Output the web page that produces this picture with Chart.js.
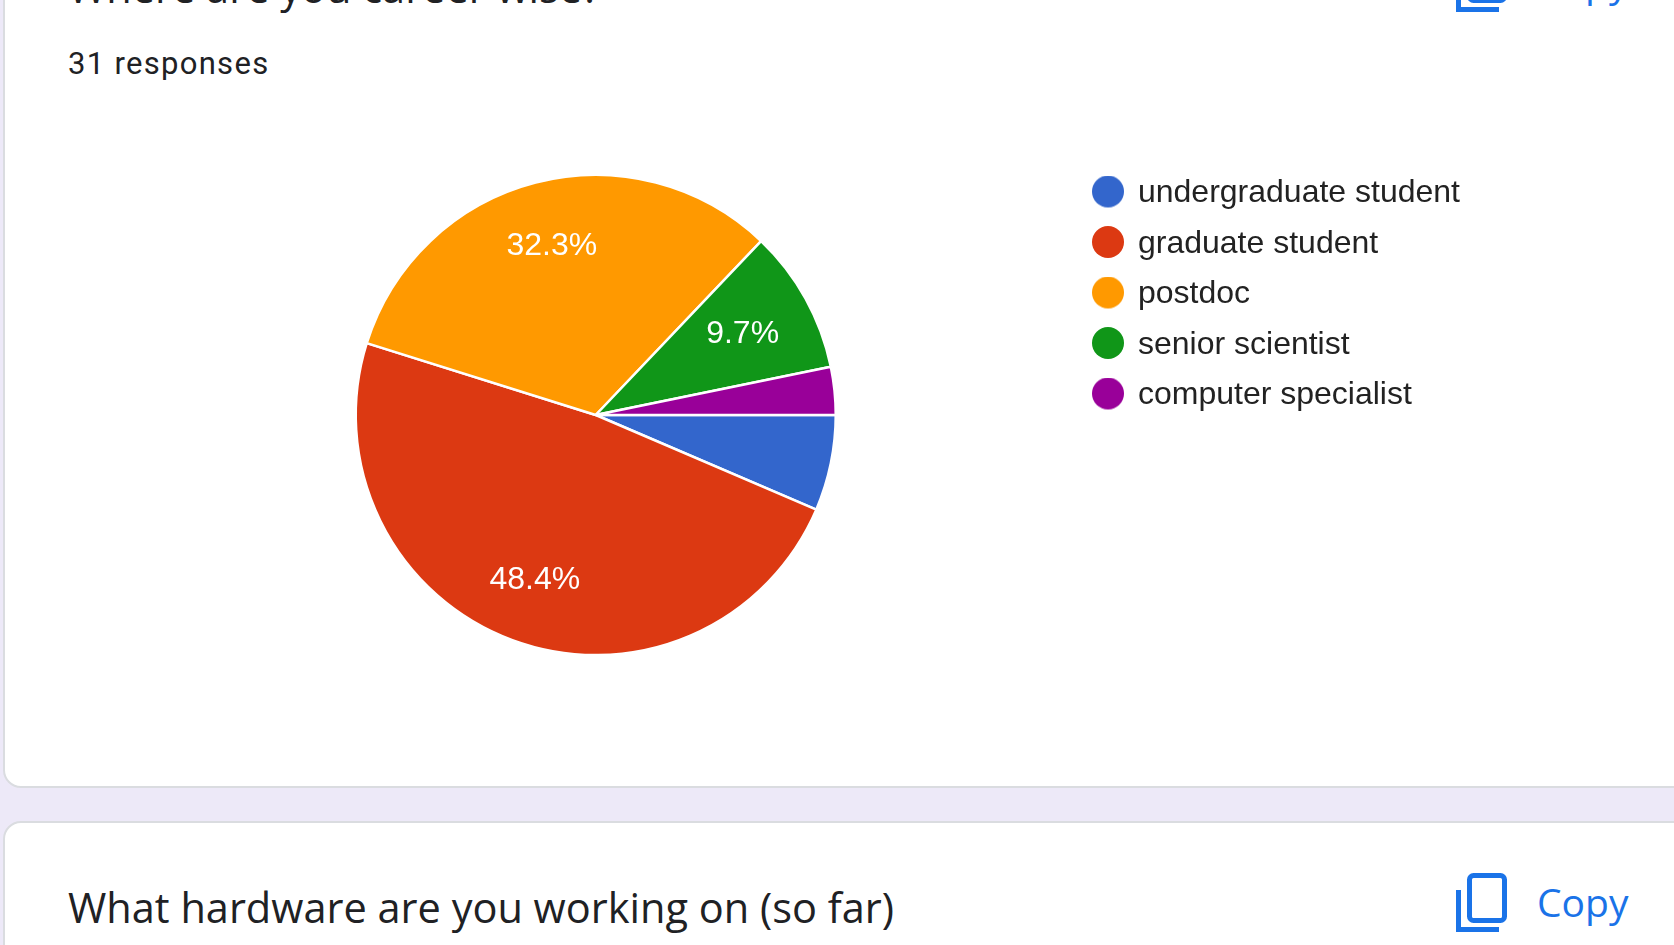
<!DOCTYPE html>
<html>
<head>
<meta charset="utf-8">
<title>Where are you career wise?</title>
<script src="https://cdn.jsdelivr.net/npm/chart.js@4"></script>
<style>
  html, body { margin: 0; padding: 0; width: 1674px; height: 945px; overflow: hidden; background: #ede9f8; }
  .card { position: absolute; left: 3px; width: 1700px; background: #fff; border: 2px solid #dadce0; border-radius: 18px; box-sizing: border-box; }
  #card-top { top: -100px; height: 888px; }
  #card-bottom { top: 821px; height: 300px; }
  .title { position: absolute; left: 68px; font-family: "Open Sans", sans-serif; font-size: 41.5px; line-height: 50px; color: #202124; white-space: nowrap; }
  .copy { position: absolute; left: 1537px; font-family: "Open Sans", sans-serif; font-size: 39px; line-height: 50px; color: #1a73e8; }
  .icon { position: absolute; left: 1456px; }
  #responses { position: absolute; left: 68px; top: 44px; font-family: Roboto, sans-serif; font-size: 31px; line-height: 40px; letter-spacing: 1.3px; color: #202124; }
  #chart-wrap { position: absolute; left: 0; top: 0; width: 1674px; height: 760px; }
</style>
</head>
<body>
<div class="card" id="card-top"></div>
<div class="card" id="card-bottom"></div>

<div class="title" style="top:-38px">Where are you career wise?</div>
<svg class="icon" style="top:-47px" width="52" height="60"><rect x="13.5" y="2.5" width="35" height="45" rx="4" fill="none" stroke="#1a73e8" stroke-width="5"/><path d="M2.5 17V56.5H43" fill="none" stroke="#1a73e8" stroke-width="5"/></svg>
<div class="copy" style="top:-43px">Copy</div>
<div id="responses">31 responses</div>

<div id="chart-wrap"><canvas id="career-chart" width="1674" height="760"></canvas></div>

<div class="title" style="top:882px">What hardware are you working on (so far)</div>
<svg class="icon" style="top:873px" width="52" height="60"><rect x="13.5" y="2.5" width="35" height="45" rx="4" fill="none" stroke="#1a73e8" stroke-width="5"/><path d="M2.5 17V56.5H43" fill="none" stroke="#1a73e8" stroke-width="5"/></svg>
<div class="copy" style="top:877px">Copy</div>

<script>
const categories = ["undergraduate student", "graduate student", "postdoc", "senior scientist", "computer specialist"];
const responses = [2, 15, 10, 3, 1];
const sliceLabels = ["", "48.4%", "32.3%", "9.7%", ""];
const colors = ["#3366cc", "#dc3912", "#ff9900", "#109618", "#990099"];

// legend dots as small canvases, the built in circle puts the text too far away
const makeDot = (color) => {
  const dot = document.createElement("canvas");
  dot.width = 32;
  dot.height = 36;
  const dotCtx = dot.getContext("2d");
  dotCtx.fillStyle = color;
  dotCtx.beginPath();
  dotCtx.arc(16, 16, 16, 0, Math.PI * 2);
  dotCtx.fill();
  return dot;
};

// google forms style labels inside the slices
const sliceLabelPlugin = {
  id: "sliceLabels",
  afterDatasetsDraw(chart) {
    const ctx = chart.ctx;
    const arcs = chart.getDatasetMeta(0).data;
    ctx.save();
    ctx.font = '32px "Liberation Sans"';
    ctx.fillStyle = "#ffffff";
    ctx.textAlign = "center";
    ctx.textBaseline = "middle";
    arcs.forEach((arc, i) => {
      if (!sliceLabels[i]) return;
      const mid = (arc.startAngle + arc.endAngle) / 2;
      // the narrow slice keeps its label a bit closer to the centre
      const dist = arc.outerRadius * (responses[i] < 5 ? 0.7 : 0.73);
      ctx.fillText(sliceLabels[i], arc.x + Math.cos(mid) * dist, arc.y + Math.sin(mid) * dist + 1);
    });
    ctx.restore();
  },
};

new Chart(document.querySelector("#career-chart"), {
  type: "pie",
  plugins: [sliceLabelPlugin],
  data: {
    labels: categories,
    datasets: [{
      data: responses,
      backgroundColor: colors,
      borderColor: "#ffffff",
      borderWidth: 2.5,
      hoverOffset: 0,
      radius: 240,
    }],
  },
  options: {
    responsive: false,
    animation: false,
    rotation: 90,
    layout: { padding: { left: 116, top: 159, right: 204, bottom: 89 } },
    plugins: {
      tooltip: { enabled: false },
      legend: {
        position: "right",
        align: "start",
        labels: {
          usePointStyle: true,
          boxHeight: 24,
          boxWidth: 28,
          pointStyleWidth: 28,
          padding: 18.5,
          color: "#222222",
          font: { family: '"Liberation Sans"', size: 32 },
          generateLabels: () => categories.map((text, i) => ({
            text,
            index: i,
            pointStyle: makeDot(colors[i]),
            fillStyle: colors[i],
            strokeStyle: colors[i],
            lineWidth: 0,
            fontColor: "#222222",
            hidden: false,
          })),
        },
      },
    },
  },
});
</script>
</body>
</html>
